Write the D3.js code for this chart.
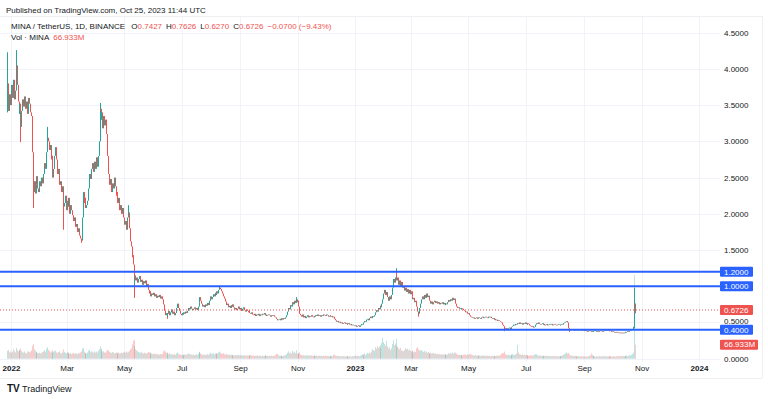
<!DOCTYPE html>
<html><head><meta charset="utf-8">
<script src="https://cdn.jsdelivr.net/npm/d3@7"></script>
<style>body{margin:0;background:#fff;} svg{display:block;font-family:"Liberation Sans",Arial,sans-serif;}</style>
</head><body><svg id="c" width="768" height="399"></svg>
<script>
// ---------------- DATA ----------------
const startDate = "2021-12-28";          // first daily candle
const firstOpen = 3.46;
// daily closes (USDT), Dec 28 2021 .. Oct 25 2023
const closes = [
3.80,3.42,3.65,3.50,
3.78,3.60,3.85,3.58,3.70,4.05,3.78,3.55,3.38,3.52,
3.20,3.42,3.58,3.48,3.62,3.45,3.55,3.38,3.60,3.52,
3.40,3.35,2.85,2.30,2.45,2.28,2.40,2.52,2.35,2.30,
2.45,2.38,2.50,2.42,2.55,2.70,2.62,2.85,3.05,3.00,
2.88,2.95,2.75,2.80,2.50,2.62,2.80,2.92,2.75,2.55,
2.62,2.40,2.45,2.30,2.38,2.10,2.15,2.25,2.05,2.18,
2.10,2.22,2.00,2.12,2.05,1.98,1.90,1.95,1.82,1.86,
1.75,1.80,1.70,1.66,1.63,1.95,2.30,2.15,2.22,2.08,
2.12,2.18,2.35,2.55,2.48,2.62,2.70,2.58,2.72,2.62,
2.78,2.65,2.80,3.00,3.45,3.30,3.40,3.18,3.35,3.22,
3.30,3.10,2.80,2.55,2.40,2.48,2.30,2.42,2.35,2.50,
2.38,2.25,2.30,2.15,2.22,2.05,2.12,2.00,2.08,1.95,
1.85,1.90,1.78,1.95,2.02,1.80,1.62,1.55,1.40,1.30,
1.02,1.15,1.08,1.12,1.05,1.10,1.14,1.06,1.09,1.02,
1.07,1.04,1.08,1.00,1.03,0.95,0.90,0.93,0.86,0.90,
0.88,0.91,0.86,0.89,0.84,0.87,0.85,0.88,0.83,0.86,
0.82,0.75,0.66,0.60,0.63,0.58,0.62,0.66,0.60,0.64,
0.68,0.62,0.65,0.60,0.63,0.70,0.76,0.70,0.66,0.62,
0.60,0.63,0.61,0.64,0.62,0.65,0.63,0.66,0.70,0.68,
0.72,0.69,0.67,0.69,0.71,0.68,0.70,0.67,0.72,0.78,
0.85,0.80,0.76,0.72,0.74,0.71,0.75,0.73,0.77,0.74,
0.80,0.86,0.82,0.85,0.89,0.86,0.91,0.88,0.93,0.90,
0.95,0.98,0.96,0.93,0.90,0.86,0.83,0.79,0.74,0.76,
0.71,0.73,0.70,0.74,0.72,0.75,0.71,0.68,0.70,0.67,
0.69,0.72,0.68,0.70,0.66,0.69,0.71,0.67,0.65,0.68,
0.66,0.64,0.67,0.63,0.62,0.64,0.61,0.60,0.62,0.59,
0.61,0.60,0.62,0.59,0.61,0.60,0.62,0.61,0.63,0.60,
0.61,0.59,0.60,0.61,0.60,0.58,0.60,0.59,0.60,0.58,
0.57,0.55,0.53,0.54,0.55,0.53,0.55,0.56,0.54,0.56,
0.55,0.57,0.60,0.65,0.70,0.68,0.74,0.72,0.78,0.75,
0.80,0.77,0.82,0.78,0.80,0.72,0.62,0.60,0.58,0.61,
0.57,0.59,0.56,0.58,0.60,0.57,0.59,0.58,0.60,0.58,
0.57,0.59,0.58,0.60,0.59,0.61,0.59,0.60,0.58,0.60,
0.59,0.61,0.60,0.59,0.61,0.60,0.58,0.59,0.60,0.58,
0.59,0.57,0.58,0.55,0.53,0.51,0.52,0.50,0.51,0.49,
0.50,0.48,0.49,0.50,0.48,0.49,0.47,0.48,0.49,0.47,
0.48,0.46,0.47,0.46,0.45,0.46,0.44,0.45,0.46,0.44,
0.46,0.48,0.47,0.49,0.50,0.52,0.51,0.54,0.55,0.53,
0.56,0.58,0.56,0.59,0.58,0.60,0.64,0.67,0.65,0.70,
0.68,0.73,0.71,0.76,0.82,0.90,0.95,0.88,0.92,0.85,
0.80,0.86,0.82,0.88,0.98,1.10,1.05,1.12,1.20,1.08,
1.12,1.02,1.08,1.00,1.06,0.98,1.00,0.94,0.98,0.92,
0.96,0.90,0.95,0.89,0.93,0.86,0.82,0.84,0.78,0.80,
0.72,0.65,0.62,0.70,0.76,0.82,0.86,0.82,0.88,0.84,
0.90,0.85,0.87,0.82,0.80,0.76,0.79,0.75,0.78,0.80,
0.77,0.79,0.76,0.78,0.75,0.77,0.76,0.78,0.75,0.77,
0.74,0.76,0.75,0.78,0.81,0.79,0.82,0.80,0.84,0.81,
0.83,0.76,0.72,0.70,0.71,0.69,0.70,0.68,0.70,0.69,
0.67,0.66,0.64,0.65,0.62,0.63,0.60,0.58,0.57,0.56,
0.57,0.55,0.56,0.57,0.55,0.56,0.57,0.56,0.55,0.57,
0.58,0.56,0.57,0.58,0.57,0.56,0.58,0.57,0.58,0.56,
0.55,0.56,0.54,0.55,0.53,0.54,0.52,0.53,0.52,0.51,
0.50,0.47,0.45,0.42,0.41,0.42,0.40,0.42,0.43,0.41,
0.43,0.44,0.45,0.47,0.46,0.48,0.47,0.49,0.48,0.50,
0.48,0.49,0.47,0.49,0.48,0.50,0.48,0.47,0.49,0.48,
0.46,0.45,0.44,0.45,0.43,0.44,0.47,0.49,0.48,0.50,
0.48,0.47,0.48,0.49,0.47,0.48,0.46,0.47,0.48,0.46,
0.47,0.48,0.47,0.48,0.46,0.47,0.48,0.47,0.46,0.47,
0.48,0.47,0.46,0.47,0.48,0.47,0.49,0.50,0.51,0.52,
0.50,0.42,0.40,0.41,0.40,0.41,0.40,0.39,0.40,0.41,
0.40,0.39,0.40,0.41,0.40,0.39,0.40,0.39,0.38,0.39,
0.38,0.37,0.38,0.39,0.38,0.37,0.38,0.37,0.38,0.39,
0.38,0.37,0.38,0.37,0.38,0.39,0.38,0.37,0.38,0.39,
0.40,0.39,0.40,0.39,0.38,0.39,0.38,0.37,0.38,0.37,
0.36,0.37,0.36,0.37,0.36,0.35,0.36,0.35,0.36,0.35,
0.36,0.37,0.36,0.37,0.38,0.37,0.38,0.39,0.40,0.41,
0.44,0.7427,0.6726
];
// notable wicks: [candle index, high, low]
const wicks = [
[0,4.23,3.40],[9,4.26,3.70],[14,null,2.99],[27,null,2.08],[42,3.20,null],
[59,null,1.78],[78,null,1.60],[98,3.53,null],[128,2.12,null],[133,1.43,null],
[134,null,0.84],[169,null,0.55],[225,1.00,null],[306,0.85,null],[412,1.25,null],
[436,null,0.58],[527,null,0.38],[596,null,0.37],[665,0.98,0.42],[666,0.7626,0.6270]
];
// daily volume (M MINA), same days as closes
const volumes = [
38,42,30,35,
28,33,45,36,30,52,41,35,44,39,
48,37,31,29,35,27,25,33,36,30,
34,40,62,70,45,38,33,30,28,26,
29,27,25,32,35,40,33,48,55,42,
37,30,34,28,41,33,36,39,30,28,
32,35,27,25,30,44,33,28,26,31,
29,27,24,26,22,25,28,23,26,24,
22,25,27,30,35,48,52,34,28,26,
25,30,38,44,31,36,33,28,35,30,
34,29,38,45,60,48,40,33,36,30,
28,35,42,38,33,30,27,32,29,26,
28,30,25,27,31,24,26,29,27,30,
32,28,35,30,33,38,45,50,68,85,
90,60,45,40,36,32,30,28,33,27,
25,29,26,24,28,33,30,26,29,24,
22,25,23,21,24,20,22,19,23,21,
24,35,40,33,28,30,24,22,26,21,
20,23,19,22,18,26,30,24,21,19,
18,20,17,19,21,18,20,22,25,21,
23,19,18,20,17,19,21,18,24,30,
33,25,21,19,18,20,17,19,22,18,
24,28,22,24,26,21,25,23,27,24,
30,34,28,25,23,26,22,20,24,19,
18,20,17,19,16,18,17,15,18,16,
17,19,15,16,18,14,16,17,15,14,
16,15,17,14,18,15,14,16,13,15,
14,16,13,15,14,12,15,13,14,16,
13,15,14,12,14,13,15,12,14,13,
18,22,25,16,14,15,13,14,12,14,
15,17,22,28,35,26,30,24,38,28,
33,26,40,25,22,28,30,20,18,16,
17,15,16,14,18,15,14,16,15,13,
14,16,13,15,14,12,15,14,13,15,
12,14,13,15,12,14,13,11,14,12,
13,12,18,20,15,13,14,12,13,11,
12,11,13,12,10,12,11,13,10,12,
11,10,12,11,13,15,12,14,13,11,
14,18,22,16,20,25,18,22,28,24,
30,26,35,45,40,38,55,48,60,52,
58,65,50,75,100,80,70,62,85,60,
48,55,42,50,70,88,65,72,95,60,
58,50,45,52,40,38,35,42,50,45,
48,40,44,38,36,33,40,30,35,32,
50,55,45,38,42,40,35,33,38,30,
35,28,32,27,25,30,24,26,28,23,
25,22,24,21,23,20,22,19,21,20,
22,20,18,21,26,24,28,22,30,25,
27,30,24,20,18,19,17,18,16,17,
18,20,19,17,22,18,21,24,19,17,
16,15,17,14,16,15,14,16,13,15,
14,16,15,13,14,15,13,14,12,13,
14,12,13,15,12,14,16,13,15,18,
22,28,26,34,22,18,16,20,17,15,
18,20,22,19,17,21,24,65,30,22,
20,18,21,17,19,16,18,15,17,14,
16,15,18,14,16,19,22,20,17,15,
14,16,13,15,12,14,13,15,12,14,
13,12,14,11,13,12,11,13,12,10,
12,11,13,12,14,16,18,22,25,30,
24,28,20,16,14,13,15,12,14,11,
12,11,13,10,12,11,10,12,11,10,
11,10,12,14,16,25,18,14,12,11,
10,12,11,10,12,11,10,13,11,12,
11,12,10,11,12,10,13,11,10,12,
11,10,12,11,13,12,11,14,12,13,
12,14,13,15,12,14,16,15,18,22,
30,400,66.933
];
const lastVolume = 66.933;

const priceTicks = [0,0.5,1,1.5,2,2.5,3,3.5,4,4.5];
const timeTickDates = ["2022-01-01","2022-03-01","2022-05-01","2022-07-01","2022-09-01","2022-11-01",
  "2023-01-01","2023-03-01","2023-05-01","2023-07-01","2023-09-01","2023-11-01","2024-01-01"];
const timeTickLabels = ["2022","Mar","May","Jul","Sep","Nov","2023","Mar","May","Jul","Sep","Nov","2024"];
const levelLines = [1.2,1.0,0.4];
const lastPrice = 0.6726;

// ---------------- CHART ----------------
const svg = d3.select("#c");
const UP = "#26a69a", DN = "#ef5350", BLUE = "#2962ff", TXT = "#131722";
const parse = d3.utcParse("%Y-%m-%d");
const x = d3.scaleUtc().domain([parse("2022-01-01"), parse("2024-01-01")]).range([11, 699]);
const y = d3.scaleLinear().domain([0, 4.5]).range([358.7, 32.7]);
const yv = d3.scaleLinear().domain([0, d3.max(volumes)]).range([358.7, 275]);
const PLOT_R = 720;

const t0 = parse(startDate);
const candles = closes.map((c, i) => {
  const o = i === 0 ? firstOpen : closes[i - 1];
  return {date: d3.utcDay.offset(t0, i), o, c, h: Math.max(o, c), l: Math.min(o, c), v: volumes[i]};
});
wicks.forEach(([i, h, l]) => { if (h != null) candles[i].h = h; if (l != null) candles[i].l = l; });

// frame
svg.append("line").attr("x1",0).attr("x2",762).attr("y1",16.5).attr("y2",16.5).attr("stroke","#eef0f4");
svg.append("line").attr("x1",762.5).attr("x2",762.5).attr("y1",16).attr("y2",378).attr("stroke","#eef0f4");
svg.append("line").attr("x1",0).attr("x2",762).attr("y1",378.5).attr("y2",378.5).attr("stroke","#eef0f4");

// grid
const tDates = timeTickDates.map(parse);
svg.append("g").selectAll("line").data(tDates).join("line")
  .attr("x1", d => Math.round(x(d)) + 0.5).attr("x2", d => Math.round(x(d)) + 0.5)
  .attr("y1", 17).attr("y2", 362).attr("stroke", "#f0f3fa");
svg.append("g").selectAll("line").data(priceTicks).join("line")
  .attr("x1", 0).attr("x2", PLOT_R).attr("y1", d => Math.round(y(d)) + 0.5).attr("y2", d => Math.round(y(d)) + 0.5)
  .attr("stroke", "#f0f3fa");

// volume
svg.append("g").selectAll("rect").data(candles).join("rect")
  .attr("x", d => Math.round(x(d.date))).attr("width", 1)
  .attr("y", d => yv(d.v)).attr("height", d => yv(0) - yv(d.v))
  .attr("fill", d => d.c >= d.o ? "rgba(38,166,154,0.3)" : "rgba(239,83,80,0.3)");

// candles
svg.append("g").selectAll("line").data(candles).join("line")
  .attr("x1", d => Math.round(x(d.date)) + 0.5).attr("x2", d => Math.round(x(d.date)) + 0.5)
  .attr("y1", d => y(d.h)).attr("y2", d => y(d.l))
  .attr("stroke", d => d.c >= d.o ? UP : DN).attr("stroke-width", 1);

// level lines
svg.append("g").selectAll("line").data(levelLines).join("line")
  .attr("x1", 0).attr("x2", PLOT_R).attr("y1", d => y(d)).attr("y2", d => y(d))
  .attr("stroke", BLUE).attr("stroke-width", 2);
// last price dotted
svg.append("line").attr("x1", 0).attr("x2", PLOT_R).attr("y1", y(lastPrice)).attr("y2", y(lastPrice))
  .attr("stroke", DN).attr("stroke-dasharray", "1,2").attr("stroke-width", 1);

// price axis
const ya = svg.append("g").attr("transform", `translate(${PLOT_R},0)`)
  .call(d3.axisRight(y).tickValues(priceTicks).tickFormat(d3.format(".4f")).tickSize(0).tickPadding(4));
ya.select(".domain").remove();
ya.selectAll("text").attr("font-size", 8).attr("fill", TXT).attr("font-family", "Liberation Sans, Arial")
  .attr("dy", d => d === 0.5 ? "0.1em" : "0.32em");

// time axis
const xa = svg.append("g").attr("transform", "translate(0,363)")
  .call(d3.axisBottom(x).tickValues(tDates).tickFormat((d, i) => timeTickLabels[i]).tickSize(0).tickPadding(2));
xa.select(".domain").remove();
xa.selectAll("text").attr("font-size", 8).attr("fill", TXT).attr("font-family", "Liberation Sans, Arial")
  .attr("font-weight", (d, i) => /^\d{4}$/.test(timeTickLabels[i]) ? "bold" : "normal");

// axis tags
function tag(yy, txt, fill, w) {
  svg.append("rect").attr("x", 720).attr("y", yy - 5).attr("width", w).attr("height", 10).attr("rx", 1).attr("fill", fill);
  svg.append("text").attr("x", 724).attr("y", yy).attr("dy", "0.35em").attr("font-size", 8)
    .attr("fill", "#fff").text(txt);
}
levelLines.forEach(p => tag(y(p), d3.format(".4f")(p), BLUE, 33));
tag(y(lastPrice), d3.format(".4f")(lastPrice), DN, 33);
tag(yv(lastVolume), lastVolume.toFixed(3) + "M", DN, 38);

// header
svg.append("text").attr("x", 6).attr("y", 13).attr("font-size", 8).attr("fill", TXT)
  .text("Published on TradingView.com, Oct 25, 2023 11:44 UTC");
const leg = svg.append("text").attr("x", 11).attr("y", 29).attr("font-size", 8).attr("fill", TXT);
leg.append("tspan").text("MINA / TetherUS, 1D, BINANCE ");
[["O","0.7427"],["H","0.7626"],["L","0.6270"],["C","0.6726"]].forEach(([k,v]) => {
  leg.append("tspan").attr("dx", 4).text(k);
  leg.append("tspan").attr("fill", DN).text(v);
});
leg.append("tspan").attr("dx", 4).attr("fill", DN).text("−0.0700 (−9.43%)");
const vl = svg.append("text").attr("x", 11).attr("y", 40).attr("font-size", 8).attr("fill", TXT);
vl.append("tspan").text("Vol · MINA");
vl.append("tspan").attr("dx", 4).attr("fill", DN).text(lastVolume.toFixed(3) + "M");

// footer logo
svg.append("text").attr("x", 7).attr("y", 392).attr("font-size", 10).attr("font-weight", "bold").attr("fill", TXT).text("TV");
svg.append("text").attr("x", 22).attr("y", 392).attr("font-size", 9).attr("fill", TXT).text("TradingView");
</script></body></html>
